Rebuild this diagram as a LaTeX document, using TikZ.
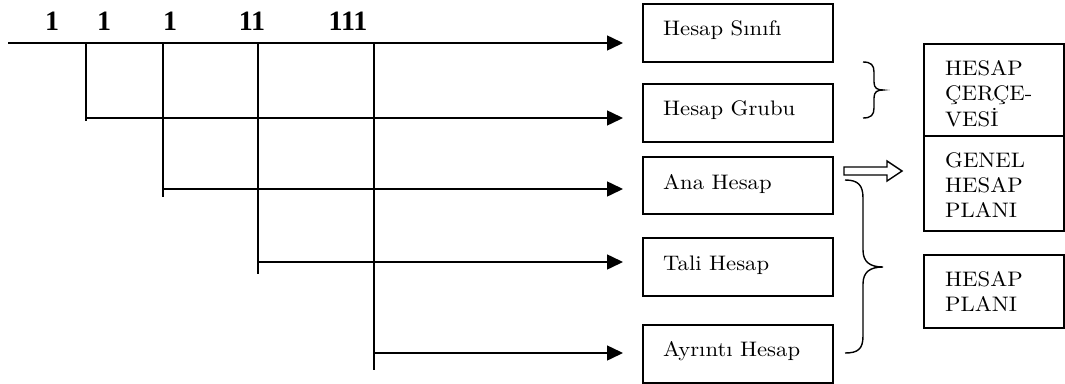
\documentclass[tikz,border=0pt]{standalone}
\usepackage{fontspec}
\usetikzlibrary{arrows.meta,calc}
\newfontfamily\boxfont{Latin Modern Roman}[OpticalSize=10]
\newfontfamily\numfont{Liberation Serif}
% wide setting of the box labels
\newcommand\widetext[1]{\scalebox{1.08}[1]{#1}}
\begin{document}
\begin{tikzpicture}[x=1pt,y=-1pt,
  line/.style={line width=1.5pt},
  arr/.style={line width=1.5pt,-{Triangle[length=16pt,width=15pt]}},
  box/.style={draw,line width=1.5pt,anchor=north west,inner sep=0pt},
  lbl/.style={anchor=base west,inner sep=0pt,font=\boxfont\fontsize{21pt}{25pt}\selectfont},
  num/.style={anchor=base,inner sep=0pt,font=\numfont\bfseries\fontsize{28pt}{28pt}\selectfont}]
\useasboundingbox (0,0) rectangle (1065,383);

% account code digits
\node[num] (d1) at (52,30) {1};
\node[num] (d2) at (104,30) {1};
\node[num] (d3) at (170,30) {1};
\node[num] (d4) at (252,30) {11};
\node[num] (d5) at (348,30) {111};

% account level boxes
\node[box,minimum width=190pt,minimum height=58pt] (sinif) at (642,3) {};
\node[box,minimum width=190pt,minimum height=58pt] (grup) at (642,83) {};
\node[box,minimum width=190pt,minimum height=57pt] (ana) at (642,156) {};
\node[box,minimum width=190pt,minimum height=58pt] (tali) at (642,237) {};
\node[box,minimum width=190pt,minimum height=58pt] (ayrinti) at (642,324) {};

\node[lbl] (tsinif) at ($(sinif.north west)+(21,32)$) {\widetext{Hesap Sınıfı}};
\node[lbl] (tgrup) at ($(grup.north west)+(21,32)$) {\widetext{Hesap Grubu}};
\node[lbl] (tana) at ($(ana.north west)+(21,33)$) {\widetext{Ana Hesap}};
\node[lbl] (ttali) at ($(tali.north west)+(21,33)$) {\widetext{Tali Hesap}};
\node[lbl] (tayrinti) at ($(ayrinti.north west)+(21,32)$) {\widetext{Ayrıntı Hesap}};

% plan boxes on the right
\node[box,minimum width=140pt,minimum height=92pt] (cerceve) at (923,43) {};
\node[box,minimum width=140pt,minimum height=95pt] (genel) at (923,135) {};
\node[box,minimum width=140pt,minimum height=73pt] (plan) at (923,254) {};

\node[lbl] (c1) at ($(cerceve.north west)+(22,32)$) {\widetext{HESAP}};
\node[lbl] (c2) at ($(cerceve.north west)+(22,57)$) {\widetext{ÇERÇE-}};
\node[lbl] (c3) at ($(cerceve.north west)+(22,83)$) {\widetext{VESİ}};
\node[lbl] (g1) at ($(genel.north west)+(22,32)$) {\widetext{GENEL}};
\node[lbl] (g2) at ($(genel.north west)+(22,57)$) {\widetext{HESAP}};
\node[lbl] (g3) at ($(genel.north west)+(22,82)$) {\widetext{PLANI}};
\node[lbl] (p1) at ($(plan.north west)+(22,32)$) {\widetext{HESAP}};
\node[lbl] (p2) at ($(plan.north west)+(22,57)$) {\widetext{PLANI}};

% branching tree of connectors
\coordinate (start) at (8,43);
\coordinate (b1) at (86,43);
\coordinate (b2) at (163,43);
\coordinate (b3) at (258,43);
\coordinate (b4) at (374,43);
\coordinate (e1) at (86,121);
\coordinate (e2) at (163,197);
\coordinate (e3) at (258,274);
\coordinate (e4) at (374,370);
\coordinate (h1) at (86,118);
\coordinate (h2) at (163,189);
\coordinate (h3) at (258,262);
\coordinate (h4) at (374,353);

\draw[arr] (start) -- ([xshift=-19pt]sinif.west |- start);
\draw[line] (b1) -- (e1);
\draw[line] (b2) -- (e2);
\draw[line] (b3) -- (e3);
\draw[line] (b4) -- (e4);
\draw[arr] (h1) -- ([xshift=-19pt]grup.west |- h1);
\draw[arr] (h2) -- ([xshift=-19pt]ana.west |- h2);
\draw[arr] (h3) -- ([xshift=-19pt]tali.west |- h3);
\draw[arr] (h4) -- ([xshift=-19pt]ayrinti.west |- h4);

% braces
\draw[line width=1.4pt] (863,62) .. controls (871,62) and (874,65) .. (874,72) -- (874,82)
  .. controls (874,88) and (877,90) .. (883,90)
  .. controls (877,90) and (874,92) .. (874,98) -- (874,108)
  .. controls (874,115) and (871,118) .. (863,118);
\draw[line width=1.4pt] (845,180) .. controls (858,180) and (863,185) .. (863,198) -- (863,250)
  .. controls (863,262) and (870,267) .. (883,267)
  .. controls (870,267) and (863,272) .. (863,284) -- (863,336)
  .. controls (863,349) and (858,353) .. (845,353);

% hollow block arrow
\draw[line width=1.4pt,line join=miter] (844,167) -- (887,167) -- (887,161) -- (902,171)
  -- (887,181) -- (887,175) -- (844,175) -- cycle;
\end{tikzpicture}
\end{document}
